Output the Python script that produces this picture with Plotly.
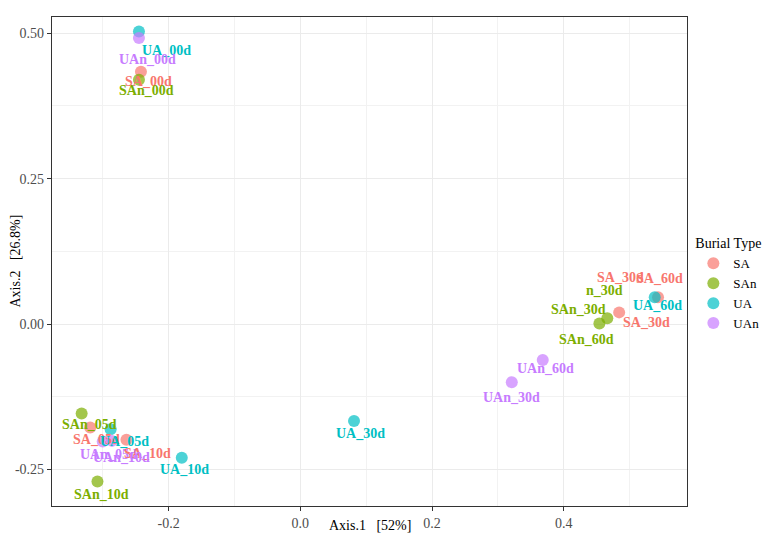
import plotly.graph_objects as go

samples = ["SA_00d", "SAn_00d", "UA_00d", "UAn_00d",
           "SA_05d", "SAn_05d", "UA_05d", "UAn_05d",
           "SA_10d", "SAn_10d", "UA_10d", "UAn_10d",
           "SA_30d", "SAn_30d", "UA_30d", "UAn_30d",
           "SA_60d", "SAn_60d", "UA_60d", "UAn_60d"]
burial = ["SA", "SAn", "UA", "UAn"] * 5
axis1 = [-0.242, -0.245, -0.245, -0.245,
         -0.319, -0.332, -0.288, -0.300,
         -0.264, -0.308, -0.180, -0.286,
         0.484, 0.466, 0.0815, 0.321,
         0.543, 0.454, 0.538, 0.368]
axis2 = [0.434, 0.420, 0.503, 0.492,
         -0.178, -0.154, -0.181, -0.202,
         -0.199, -0.271, -0.230, -0.201,
         0.020, 0.010, -0.167, -0.100,
         0.046, 0.001, 0.046, -0.062]
# label pixel offsets (right, down) relative to each point
label_dx = [8, 8, 28, 9,
            6, 8, 14, 6,
            21, 4, 3, 10,
            27, -29, 6, 0,
            1, -13, 3, 3]
label_dy = [10, 11, 19, 22,
            12, 11, 12, 13,
            14, 13, 12, 17,
            10, -9, 12, 15,
            -19, 16, 8, 8]
# extra repelled labels seen in the chart: (text, group, anchor sample, dx, dy)
extra_labels = [("SA_30d", "SA", "SA_30d", 1, -35),
                ("n_30d", "SAn", "SAn_30d", -3, -28)]

x_tickvals = [-0.2, 0.0, 0.2, 0.4]
x_ticktext = ["-0.2", "0.0", "0.2", "0.4"]
y_tickvals = [-0.25, 0.0, 0.25, 0.5]
y_ticktext = ["-0.25", "0.00", "0.25", "0.50"]

groups = ["SA", "SAn", "UA", "UAn"]
colors = {"SA": "#F8766D", "SAn": "#7CAE00", "UA": "#00BFC4", "UAn": "#C77CFF"}
x_title = "Axis.1   [52%]"
y_title = "Axis.2   [26.8%]"
legend_title = "Burial Type"

fig = go.Figure()
for g in groups:
    idx = [i for i, b in enumerate(burial) if b == g]
    fig.add_trace(go.Scatter(
        x=[axis1[i] for i in idx], y=[axis2[i] for i in idx],
        mode="markers", name=g,
        marker=dict(size=12, color=colors[g], opacity=0.7, line=dict(width=0)),
        text=[samples[i] for i in idx],
    ))

font_lbl = "Liberation Serif"
for i, s in enumerate(samples):
    fig.add_annotation(x=axis1[i], y=axis2[i], text="<b>%s</b>" % s, showarrow=False,
                       xshift=label_dx[i], yshift=-label_dy[i],
                       font=dict(family=font_lbl, size=14, color=colors[burial[i]]))
for t, g, anchor, dx, dy in extra_labels:
    i = samples.index(anchor)
    fig.add_annotation(x=axis1[i], y=axis2[i], text="<b>%s</b>" % t, showarrow=False,
                       xshift=dx, yshift=-dy,
                       font=dict(family=font_lbl, size=14, color=colors[g]))

# axis titles
fig.add_annotation(x=0.5, y=0, xref="paper", yref="paper", text=x_title, showarrow=False,
                   yshift=-19, yanchor="middle",
                   font=dict(family="Liberation Serif", size=14, color="#000000"))
fig.add_annotation(x=0, y=0.5, xref="paper", yref="paper", text=y_title, showarrow=False,
                   xshift=-37, xanchor="center", textangle=-90,
                   font=dict(family="Liberation Serif", size=14, color="#000000"))

axis_common = dict(showline=True, linecolor="#333333", linewidth=1.2, mirror=True,
                   ticks="outside", ticklen=4, tickcolor="#333333", tickwidth=1,
                   showgrid=True, gridcolor="#EBEBEB", gridwidth=1, zeroline=False,
                   automargin=False,
                   tickfont=dict(family="Liberation Serif", size=14, color="#4D4D4D"))
fig.update_xaxes(range=[-0.377, 0.587], tickmode="array", tickvals=x_tickvals, ticktext=x_ticktext,
                 minor=dict(tick0=0.1, dtick=0.2, showgrid=True, gridcolor="#F2F2F2", gridwidth=0.6, ticks=""),
                 **axis_common)
fig.update_yaxes(range=[-0.313, 0.528], tickmode="array", tickvals=y_tickvals, ticktext=y_ticktext,
                 minor=dict(tick0=0.125, dtick=0.25, showgrid=True, gridcolor="#F2F2F2", gridwidth=0.6, ticks=""),
                 **axis_common)

fig.update_layout(
    width=762, height=531,
    margin=dict(l=44, r=83, t=9, b=33, autoexpand=False),
    paper_bgcolor="white", plot_bgcolor="white",
    legend=dict(title=dict(text=legend_title, font=dict(family="Liberation Serif", size=14, color="#000000")),
                font=dict(family="Liberation Serif", size=13, color="#000000"),
                x=1.01, xanchor="left", y=0.564, yanchor="top",
                itemsizing="constant", tracegroupgap=0, bgcolor="rgba(0,0,0,0)"),
    showlegend=True,
)
fig.write_html("out.html")
